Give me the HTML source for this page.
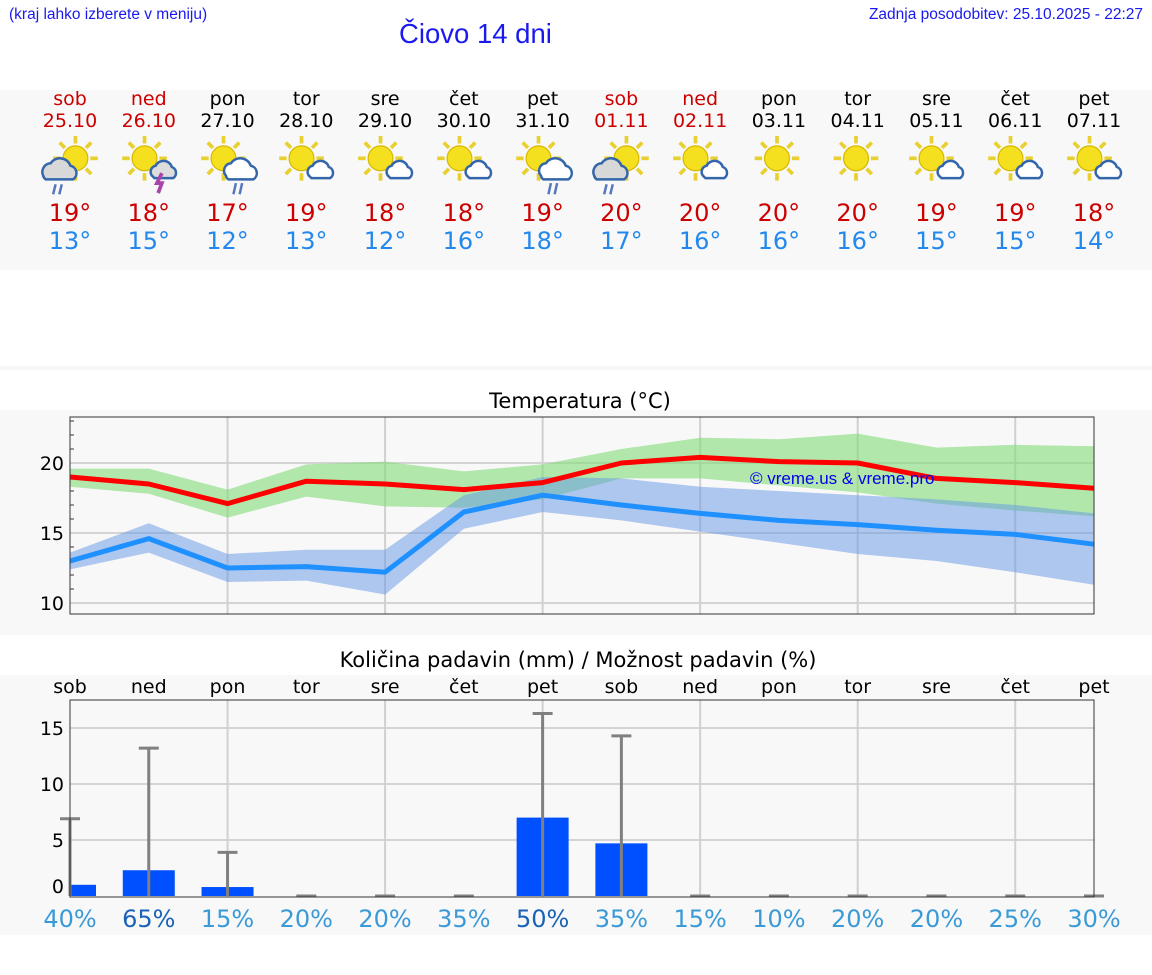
<!DOCTYPE html>
<html><head><meta charset="utf-8"><style>
body{margin:0;width:1152px;height:975px;background:#fff;position:relative;overflow:hidden;font-family:"DejaVu Sans","Liberation Sans",sans-serif}
.a{position:absolute}
</style></head><body>
<div class="a" style="left:9px;top:6px;font:15.5px 'Liberation Sans',sans-serif;color:#1a1aee">(kraj lahko izberete v meniju)</div>
<div class="a" style="left:399px;top:18px;font:27.5px 'Liberation Sans',sans-serif;color:#1a1aee">Čiovo 14 dni</div>
<div class="a" style="right:9px;top:6px;font:15.5px 'Liberation Sans',sans-serif;color:#1a1aee">Zadnja posodobitev: 25.10.2025 - 22:27</div>
<div class="a" style="left:0;top:90px;width:1152px;height:180px;background:#f8f8f8"></div>
<div class="a" style="left:0;top:366px;width:1152px;height:4px;background:#f6f6f6"></div>
<div class="a" style="left:0;top:410px;width:1152px;height:225px;background:#f8f8f8"></div>
<div class="a" style="left:0;top:675px;width:1152px;height:260px;background:#f8f8f8"></div>
<div id="strip"></div>
<svg class="a" style="left:0;top:0" width="1152" height="975" id="chart"></svg>
<script>
const days=["sob","ned","pon","tor","sre","čet","pet","sob","ned","pon","tor","sre","čet","pet"];
const dates=["25.10","26.10","27.10","28.10","29.10","30.10","31.10","01.11","02.11","03.11","04.11","05.11","06.11","07.11"];
const weekend=[1,1,0,0,0,0,0,1,1,0,0,0,0,0];
const hiT=[19,18,17,19,18,18,19,20,20,20,20,19,19,18];
const loT=[13,15,12,13,12,16,18,17,16,16,16,15,15,14];
const icons=["rain","storm","rain2","cloud","cloud","cloud","rain2","rain","cloud","sun","sun","cloud","cloud","cloud"];
const maxLine=[19.0,18.5,17.1,18.7,18.5,18.1,18.6,20.0,20.4,20.1,20.0,18.9,18.6,18.2];
const maxHi=[19.6,19.6,18.1,19.9,20.1,19.4,19.9,21.0,21.8,21.7,22.1,21.1,21.3,21.2];
const maxLo=[18.3,17.8,16.1,17.6,16.9,16.8,17.4,18.9,18.9,18.4,17.9,17.1,16.6,16.2];
const minLine=[13.0,14.6,12.5,12.6,12.2,16.5,17.7,17.0,16.4,15.9,15.6,15.2,14.9,14.2];
const minHi=[13.6,15.7,13.5,13.8,13.8,17.7,19.0,18.9,18.3,18.0,17.7,17.4,17.0,16.4];
const minLo=[12.4,13.6,11.5,11.6,10.6,15.3,16.5,15.9,15.1,14.3,13.5,13.0,12.2,11.3];
const rain=[1.0,2.3,0.8,0,0,0,7.0,4.7,0,0,0,0,0,0];
const rainMax=[6.9,13.2,3.9,0,0,0,16.3,14.3,0,0,0,0,0,0];
const chance=[40,65,15,20,20,35,50,35,15,10,20,20,25,30];
const tTicks=[10,15,20];
const pTicks=[0,5,10,15];

const X0=70,X1=1094,DX=(X1-X0)/13;
const xs=i=>X0+i*DX;
const ty=v=>463-(v-20)*14;
const py=v=>896-v*11.2;
const NS="http://www.w3.org/2000/svg";
const svg=document.getElementById('chart');
function el(t,a,p){const e=document.createElementNS(NS,t);for(const k in a)e.setAttribute(k,a[k]);(p||svg).appendChild(e);return e;}

const strip=document.getElementById('strip');
function iconSVG(k){
 let s='<svg width="70" height="62" viewBox="0 0 56 50">';
 const sx=k=="sun"?28:(k=="rain"?34:26), sy=18;
 let rays='';for(let j=0;j<8;j++){const a=j*Math.PI/4;rays+=`<line x1="${sx+Math.cos(a)*12}" y1="${sy+Math.sin(a)*12}" x2="${sx+Math.cos(a)*18}" y2="${sy+Math.sin(a)*18}" stroke="#e8d030" stroke-width="3"/>`;}
 s+=rays+`<circle cx="${sx}" cy="${sy}" r="10" fill="#f5e020" stroke="#d8b800"/>`;
 if(k=="rain"){s+='<path d="M8 32a7 7 0 0 1 6-10a9 9 0 0 1 16 2a6 6 0 0 1 2 11h-22a5 5 0 0 1-2-3z" fill="#d8d8d8" stroke="#3366aa" stroke-width="2"/><line x1="18" y1="39" x2="16" y2="47" stroke="#5577bb" stroke-width="2"/><line x1="23" y1="39" x2="21" y2="47" stroke="#5577bb" stroke-width="2"/>';}
 else if(k=="rain2"){s+='<path d="M28 32a6 6 0 0 1 4-10a9 9 0 0 1 16 2a6 6 0 0 1 2 11h-20a4 4 0 0 1-2-3z" fill="#fff" stroke="#3366aa" stroke-width="2"/><line x1="36" y1="38" x2="34" y2="47" stroke="#5577bb" stroke-width="2"/><line x1="41" y1="38" x2="39" y2="47" stroke="#5577bb" stroke-width="2"/>';}
 else if(k=="storm"){s+='<path d="M32 32a5 5 0 0 1 3-8a7 7 0 0 1 13 1a5 5 0 0 1 1 9h-15z" fill="#ddd" stroke="#3366aa" stroke-width="2"/><path d="M40 30l-4 8h4l-3 8" stroke="#aa44aa" stroke-width="3" fill="none"/>';}
 else if(k=="cloud"){s+='<path d="M32 32a5 5 0 0 1 3-8a7 7 0 0 1 13 1a5 5 0 0 1 1 9h-15z" fill="#fff" stroke="#3366aa" stroke-width="2"/>';}
 return s+'</svg>';
}
let h='';
for(let i=0;i<14;i++){
 const c=xs(i),col=weekend[i]?'#cc0000':'#000';
 h+=`<div class="a" style="left:${c-40}px;width:80px;text-align:center;top:88px;font-size:19px;color:${col}">${days[i]}</div>`;
 h+=`<div class="a" style="left:${c-40}px;width:80px;text-align:center;top:110px;font-size:19px;color:${col}">${dates[i]}</div>`;
 h+=`<div class="a" style="left:${c-37}px;top:136px">${iconSVG(icons[i])}</div>`;
 h+=`<div class="a" style="left:${c-40}px;width:80px;text-align:center;top:199px;font-size:24px;color:#cc0000">${hiT[i]}°</div>`;
 h+=`<div class="a" style="left:${c-40}px;width:80px;text-align:center;top:227px;font-size:24px;color:#2288ee">${loT[i]}°</div>`;
}
strip.innerHTML=h;

el('rect',{x:X0,y:417,width:X1-X0,height:197,fill:'#f8f8f8'});
let t=el('text',{x:580,y:408,'text-anchor':'middle','font-size':21,fill:'#000'});t.textContent='Temperatura (°C)';


for(let v=10;v<=23;v++){el('line',{x1:X0,x2:X0+4,y1:ty(v),y2:ty(v),stroke:'#333'});}
tTicks.forEach(v=>{el('line',{x1:X0,x2:X1,y1:ty(v),y2:ty(v),stroke:'#d4d4d4','stroke-width':2});
 const tx=el('text',{x:64,y:ty(v)+7,'text-anchor':'end','font-size':19});tx.textContent=v;
 
 });
for(let i=2;i<13;i+=2){el('line',{x1:xs(i),x2:xs(i),y1:417,y2:614,stroke:'#d0d0d0','stroke-width':2});}
function band(hi,lo,fill,name){let d='M'+hi.map((v,i)=>xs(i)+','+ty(v)).join('L')+'L'+lo.map((v,i)=>xs(i)+','+ty(v)).reverse().join('L')+'Z';
 const p=el('path',{d,fill});}
function line(a,stroke,name){const p=el('polyline',{points:a.map((v,i)=>xs(i)+','+ty(v)).join(' '),fill:'none',stroke,'stroke-width':5,'stroke-linejoin':'round'});}
band(maxHi,maxLo,'rgba(130,220,120,0.6)','max-temp-range');
band(minHi,minLo,'rgba(100,150,230,0.5)','min-temp-range');
line(maxLine,'#ff0000','max-temp-line');
line(minLine,'#1e90ff','min-temp-line');
t=el('text',{x:750,y:484,'font-size':17,fill:'#0000ee','font-family':'Liberation Sans,sans-serif'});t.textContent='© vreme.us & vreme.pro';


el('rect',{x:X0,y:417,width:X1-X0,height:197,fill:'none',stroke:'#333'});

t=el('text',{x:578,y:667,'text-anchor':'middle','font-size':21});t.textContent='Količina padavin (mm) / Možnost padavin (%)';


pTicks.forEach(v=>{if(v>0)el('line',{x1:X0,x2:X1,y1:py(v),y2:py(v),stroke:'#d4d4d4','stroke-width':2});
 const tx=el('text',{x:64,y:py(v)+(v==0?-3:7),'text-anchor':'end','font-size':19});tx.textContent=v;
 
 });
for(let i=2;i<13;i+=2){el('line',{x1:xs(i),x2:xs(i),y1:700,y2:897,stroke:'#d0d0d0','stroke-width':2});}
for(let i=0;i<14;i++){
 const tx=el('text',{x:xs(i),y:693,'text-anchor':'middle','font-size':19});tx.textContent=days[i];
 
 
 if(rain[i]>0){const x=Math.max(X0,xs(i)-26),w=xs(i)+26-x;
  const b=el('rect',{x,y:py(rain[i]),width:w,height:896-py(rain[i]),fill:'#0050ff'});
  
  }
 const e=el('line',{x1:xs(i),x2:xs(i),y1:896,y2:py(rainMax[i]),stroke:'#808080','stroke-width':3});
 
 
 el('line',{x1:xs(i)-10,x2:xs(i)+10,y1:py(rainMax[i]),y2:py(rainMax[i]),stroke:'#808080','stroke-width':3});
 const pc=el('text',{x:xs(i),y:927,'text-anchor':'middle','font-size':24,fill:chance[i]>=50?'#1a62b8':'#3a9ad8'});pc.textContent=chance[i]+'%';
 
 
}
el('rect',{x:X0,y:700,width:X1-X0,height:197,fill:'none',stroke:'#333'});
</script>
</body></html>
